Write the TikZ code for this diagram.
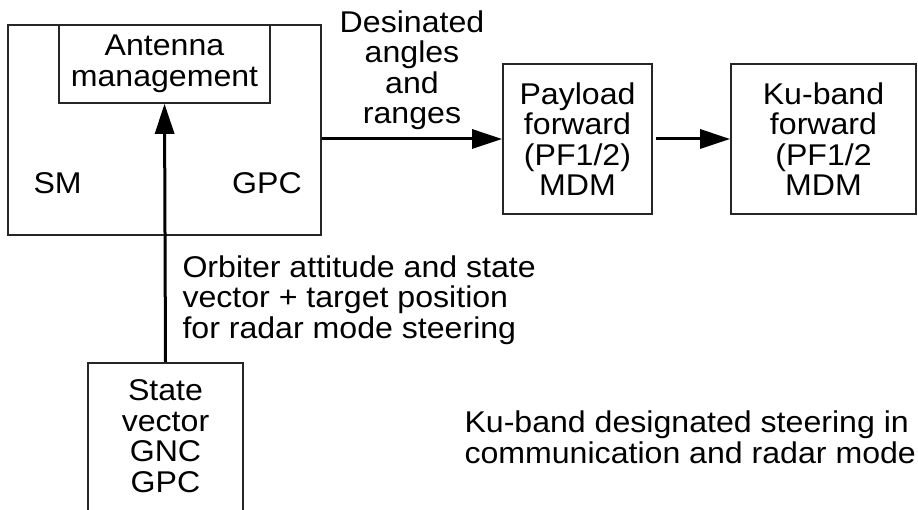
\documentclass[tikz,border=0pt]{standalone}
\usepackage{fontspec}
\setmainfont{Liberation Sans}[FakeStretch=1.07]
\usetikzlibrary{arrows.meta}

\begin{document}
\begin{tikzpicture}[x=1pt, y=-1pt, line width=3pt,
    font=\fontsize{30}{30.5}\selectfont,
    box/.style={draw=black!85, line width=1.6pt, inner sep=0pt, align=center},
    lbl/.style={inner sep=0pt, align=center},
    flow/.style={-{Triangle[length=30pt,width=19pt]}}]
    \path[use as bounding box, clip] (0,0) rectangle (918,510);

    \node[box, minimum width=313pt, minimum height=210pt] (gpc) at (164.5,130) {};
    \node[box, minimum width=211pt, minimum height=78pt] (ant) at (164.5,64) {Antenna\\management};
    \node[lbl, anchor=west] (sm) at (32,183) {SM};
    \node[lbl] (gpclbl) at (267,183) {GPC};

    \node[lbl] (dar) at (412,70) {Desinated\\angles\\and\\ranges};
    \node[box, minimum width=149pt, minimum height=150pt] (pay) at (577.5,139) {Payload\\forward\\(PF1/2)\\MDM};
    \node[box, minimum width=185pt, minimum height=150pt] (ku) at (823.5,139) {Ku-band\\forward\\(PF1/2\\MDM};

    \node[lbl, anchor=west, align=left] (orb) at (181,300) {Orbiter attitude and state\\vector + target position\\for radar mode steering};
    \node[box, minimum width=155pt, minimum height=170pt, anchor=north] (sv) at (165.5,362) {};
    \node[lbl] (svtxt) at (165.5,436) {State\\vector\\GNC\\GPC};

    \node[lbl, anchor=west, align=left] (cap) at (463,437.5) {Ku-band designated steering in\\communication and radar mode};

    \draw[flow] (sv.north) -- (ant.south);
    \draw[flow] (gpc.east |- pay.west) -- (pay.west);
    \draw[flow, shorten <=3pt] (pay.east) -- (ku.west);
\end{tikzpicture}
\end{document}
